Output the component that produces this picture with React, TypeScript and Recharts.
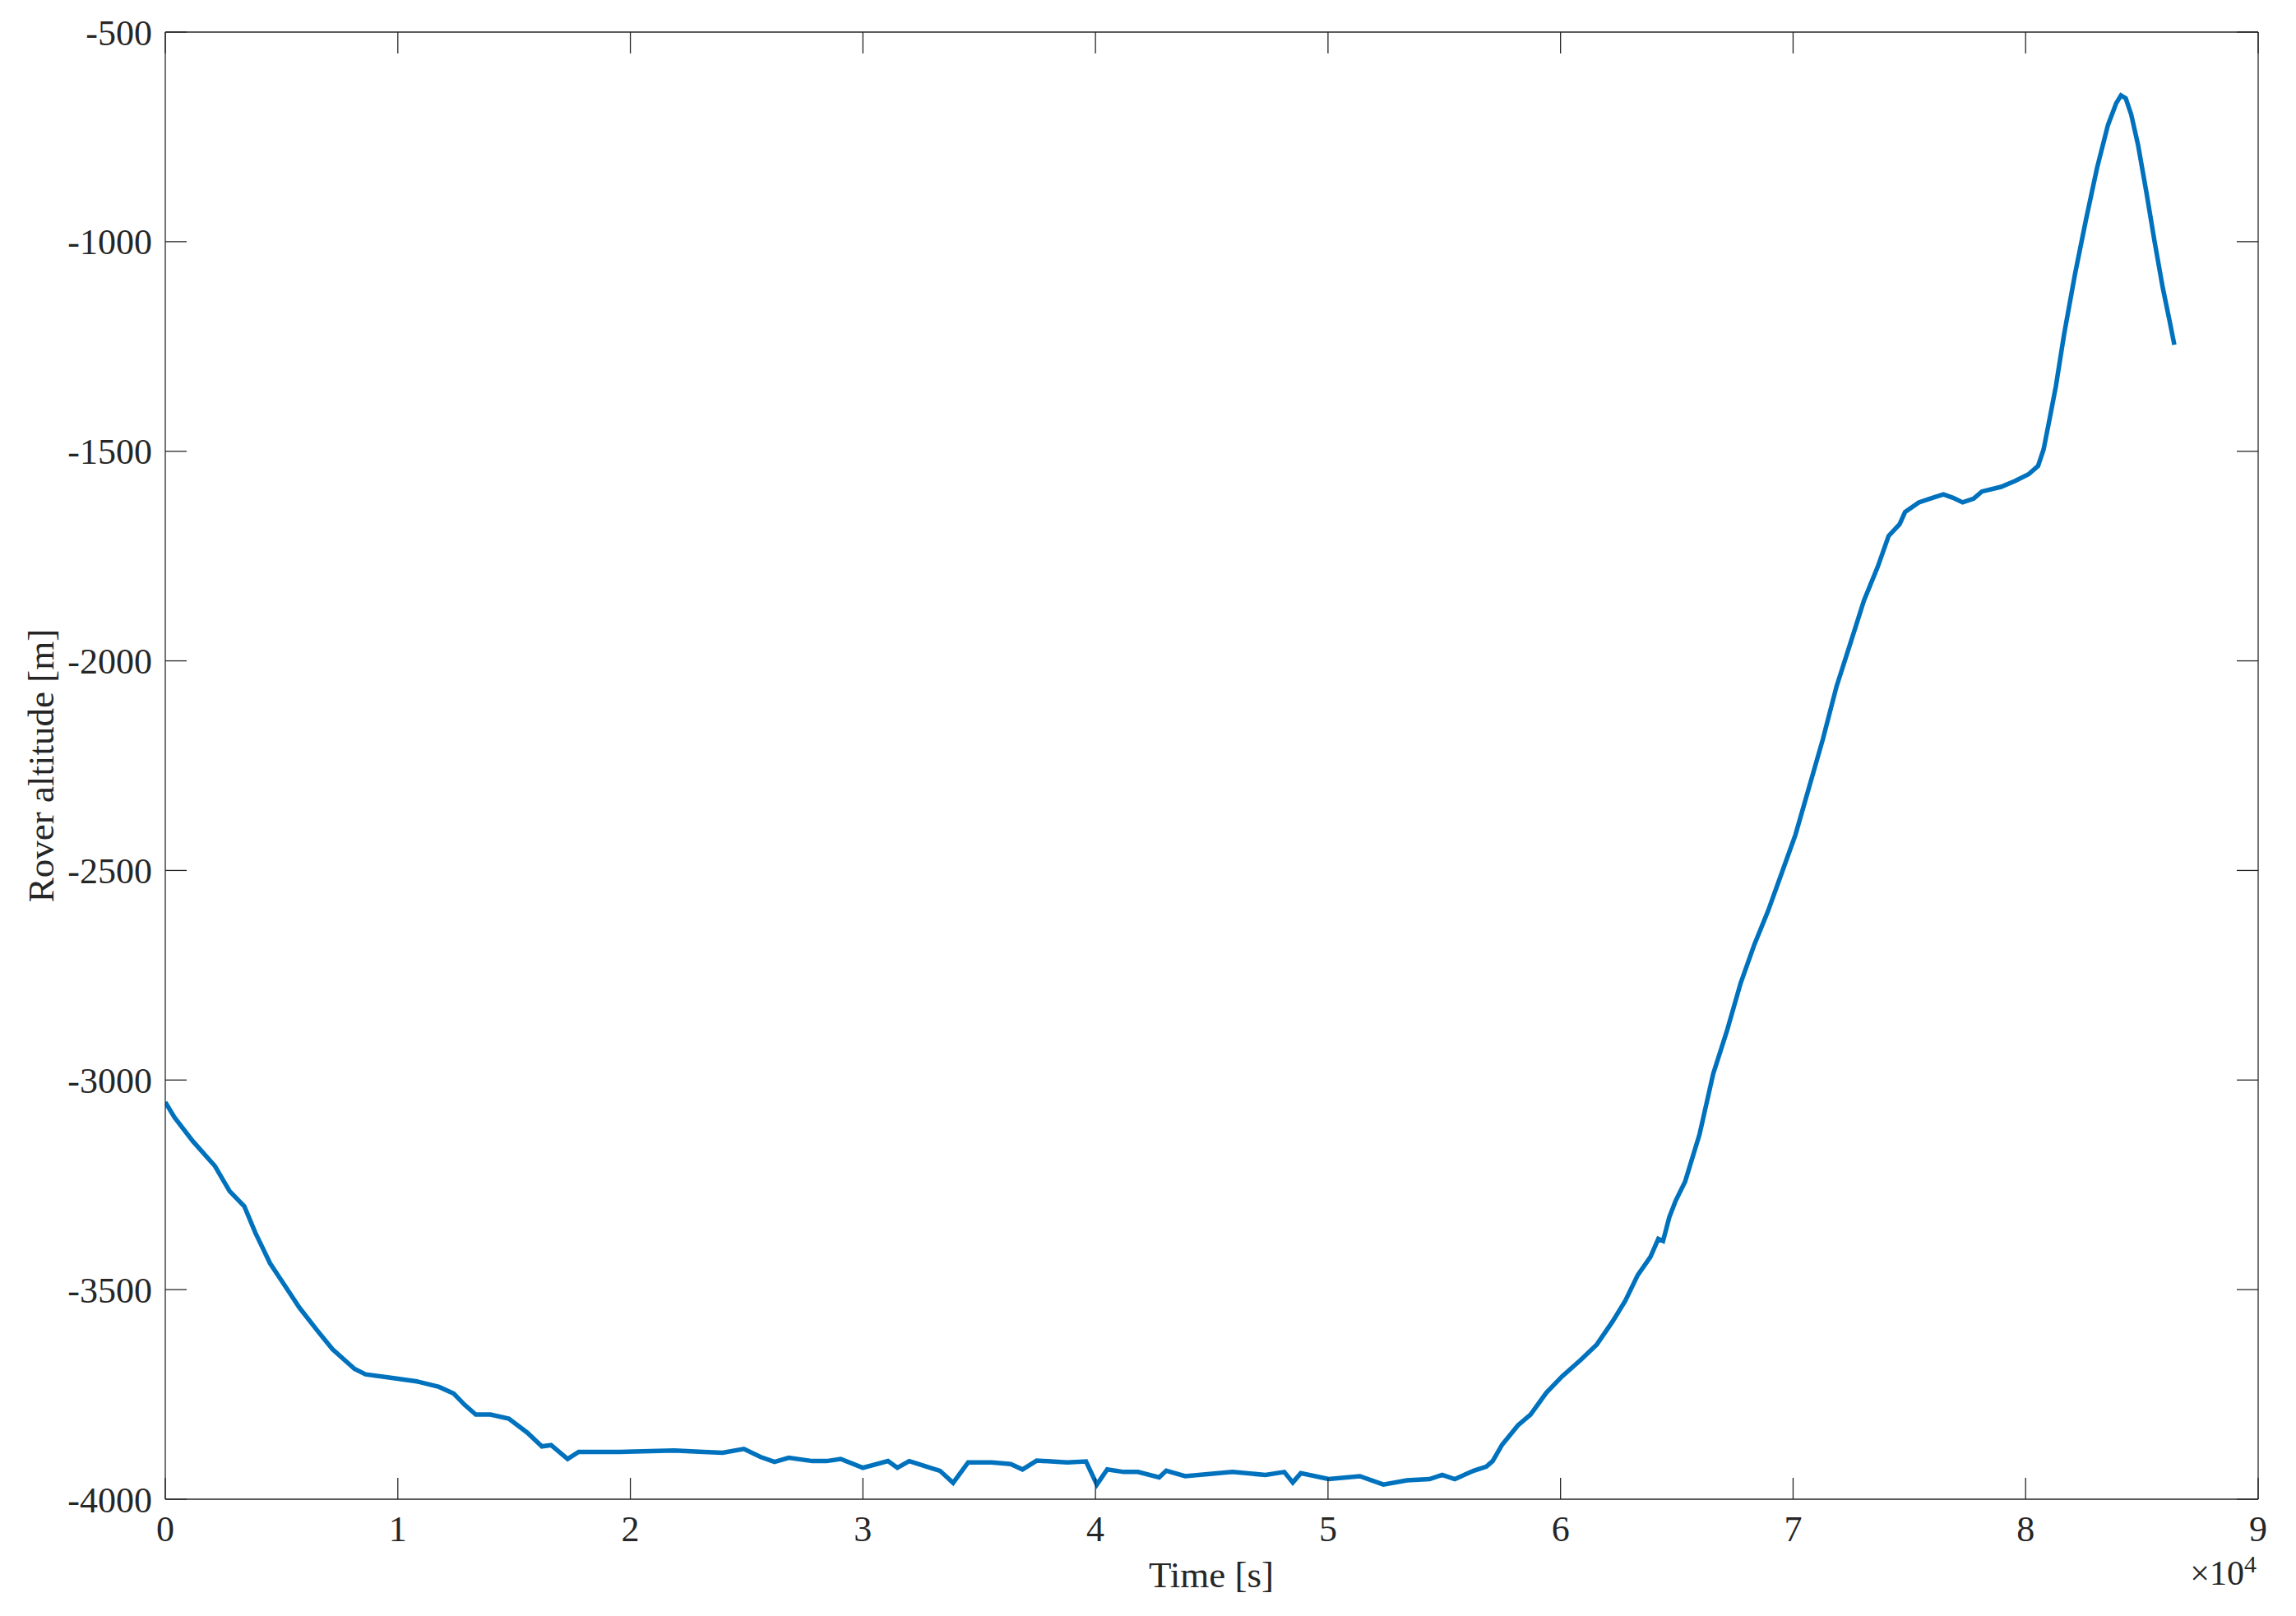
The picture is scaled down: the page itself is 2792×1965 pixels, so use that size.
import React from 'react';
import { LineChart, Line, XAxis, YAxis, Customized } from 'recharts';

// time [s] and altitude [m]
const times = [
  0, 395, 1185, 2133, 2765, 3397, 3871, 4503, 5135, 5767, 6557, 7189, 8137, 8611, 9559,
  10823, 11771, 12403, 12877, 13351, 13983, 14773, 15563, 16195, 16590, 17301, 17775,
  19513, 21883, 23147, 23966, 24880, 25590, 26200, 26809, 27824, 28433, 29042, 30000,
  31076, 31482, 31990, 32903, 33309, 33878, 34527, 35542, 36354, 36862, 37471, 38790,
  39594, 40060, 40507, 41218, 41827, 42740, 43045, 43857, 45887, 47308, 48120, 48485,
  48830, 50028, 51367, 52382, 53397, 54366, 54909, 55452, 56266, 56809, 57080, 57487,
  58166, 58709, 59387, 60065, 60880, 61558, 62237, 62779, 63322, 63865, 64204, 64408,
  64679, 64950, 65358, 65975, 66565, 67154, 67744, 68333, 68922, 69512, 70101, 70691,
  71280, 71869, 72459, 73048, 73638, 74109, 74581, 74816, 75406, 75995, 76466, 76879,
  77292, 77763, 78117, 78942, 79532, 80121, 80534, 80770, 81006, 81300, 81654, 82125,
  82597, 83068, 83539, 83893, 84100, 84306, 84542, 84837, 85190, 85543, 85897, 86191,
  86395,
];

const altitudes = [
  -3053, -3089, -3146, -3205, -3265, -3301, -3364, -3437, -3490, -3543, -3599, -3642, -3689, -3702, -3709,
  -3719, -3732, -3748, -3775, -3798, -3798, -3808, -3841, -3874, -3871, -3904, -3887,
  -3887, -3884, -3887, -3889, -3880, -3899, -3911, -3901, -3909, -3909, -3904, -3925,
  -3909, -3925, -3909, -3925, -3932, -3961, -3912, -3912, -3916, -3929, -3908, -3912,
  -3910, -3965, -3929, -3935, -3935, -3948, -3932, -3945, -3935, -3942, -3935, -3960,
  -3938, -3952, -3945, -3965, -3955, -3952, -3942, -3952, -3932, -3922, -3909, -3870,
  -3824, -3798, -3746, -3707, -3667, -3631, -3576, -3527, -3465, -3422, -3379, -3384,
  -3327, -3288, -3242, -3130, -2985, -2883, -2769, -2677, -2597, -2506, -2415, -2301,
  -2187, -2061, -1959, -1856, -1776, -1702, -1674, -1645, -1622, -1611, -1603, -1611,
  -1622, -1613, -1596, -1585, -1571, -1555, -1535, -1496, -1430, -1345, -1221, -1077,
  -947, -825, -722, -670, -651, -658, -697, -770, -881, -999, -1110, -1189,
  -1246,
];

const xTicks = [0, 10000, 20000, 30000, 40000, 50000, 60000, 70000, 80000, 90000];
const yTicks = [-4000, -3500, -3000, -2500, -2000, -1500, -1000, -500];

const data = times.map((t, i) => ({ t, alt: altitudes[i] }));

const FONT = '"Liberation Serif", "Times New Roman", serif';
const INK = '#262626';

const tickStyle = { fill: INK, fontSize: 44, fontFamily: FONT };
const noLabel = () => <g />;

const AxisTexts = () => (
  <g fontFamily={FONT} fill={INK}>
    <text x={1473} y={1930} textAnchor="middle" fontSize={45}>
      Time [s]
    </text>
    <text transform="translate(65, 931) rotate(-90)" textAnchor="middle" fontSize={45}>
      Rover altitude [m]
    </text>
    <text x={2744} y={1927} textAnchor="end" fontSize={42}>
      <tspan>×10</tspan>
      <tspan dy={-15} fontSize={30}>4</tspan>
    </text>
  </g>
);

export default function App() {
  return (
    <div style={{ width: 2792, height: 1965, background: '#fff' }}>
      <style>{'body{margin:0}'}</style>
      <LineChart
        width={2792}
        height={1965}
        data={data}
        margin={{ top: 38, right: 45, bottom: 0, left: 0 }}
      >
        <XAxis
          xAxisId="bottom"
          type="number"
          dataKey="t"
          domain={[0, 90000]}
          ticks={xTicks}
          interval={0}
          allowDataOverflow
          height={142}
          tickSize={-26}
          tickMargin={46}
          tickFormatter={(v: number) => String(v / 10000)}
          tick={tickStyle}
          stroke={INK}
          strokeWidth={1.3}
        />
        <XAxis
          xAxisId="top"
          orientation="top"
          type="number"
          dataKey="t"
          domain={[0, 90000]}
          ticks={xTicks}
          interval={0}
          allowDataOverflow
          height={1}
          tickSize={-26}
          tick={noLabel}
          stroke={INK}
          strokeWidth={1.3}
        />
        <YAxis
          yAxisId="left"
          type="number"
          domain={[-4000, -500]}
          ticks={yTicks}
          interval={0}
          allowDataOverflow
          width={201}
          tickSize={-26}
          tickMargin={42}
          tick={tickStyle}
          stroke={INK}
          strokeWidth={1.3}
        />
        <YAxis
          yAxisId="right"
          orientation="right"
          type="number"
          domain={[-4000, -500]}
          ticks={yTicks}
          interval={0}
          allowDataOverflow
          width={1}
          tickSize={-26}
          tick={noLabel}
          stroke={INK}
          strokeWidth={1.3}
        />
        <Line
          xAxisId="bottom"
          yAxisId="left"
          type="linear"
          dataKey="alt"
          stroke="#0072BD"
          strokeWidth={5.5}
          dot={false}
          isAnimationActive={false}
        />
        <Customized component={AxisTexts} />
      </LineChart>
    </div>
  );
}
